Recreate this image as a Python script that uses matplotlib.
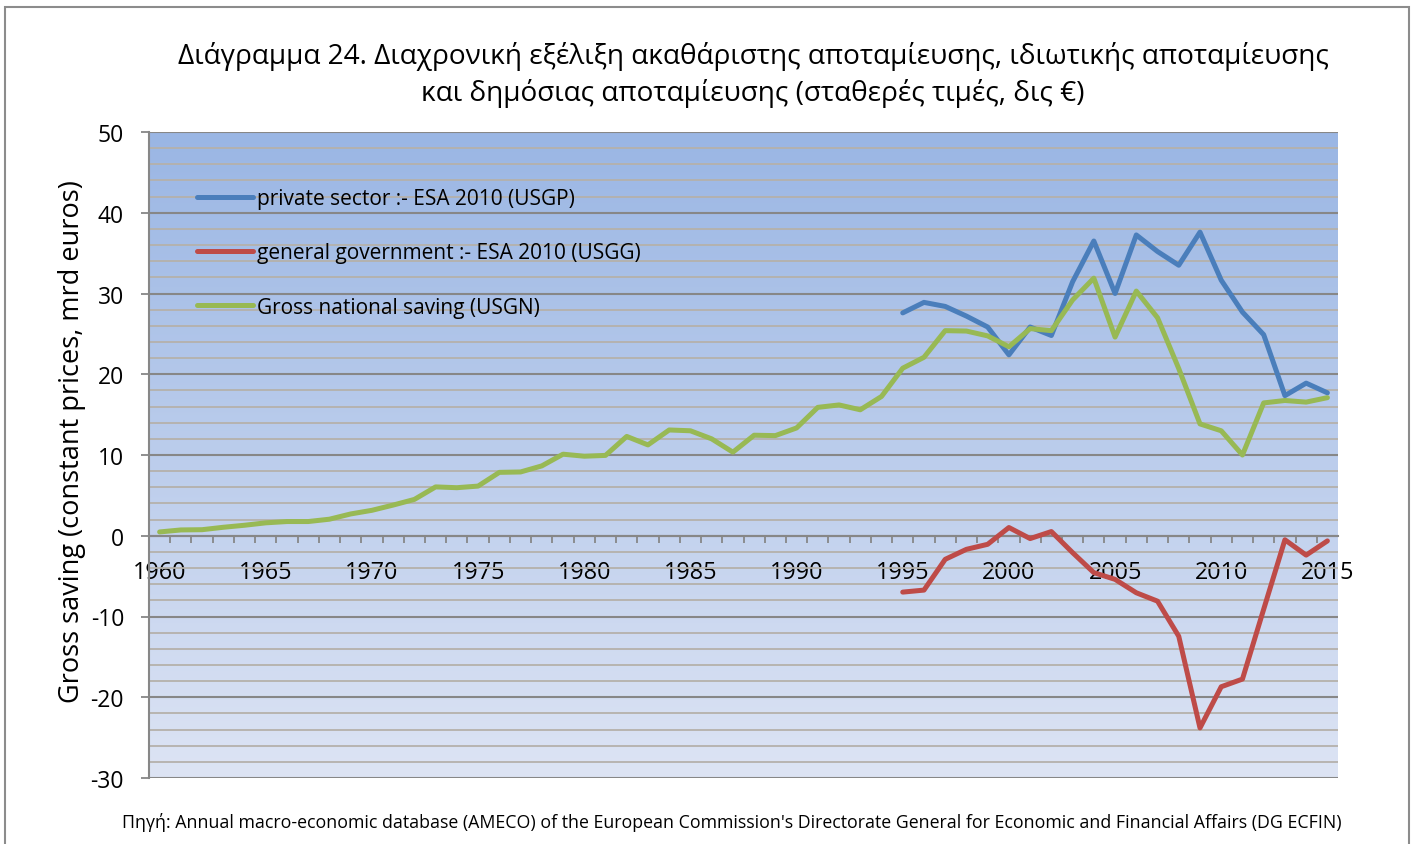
"""Gross, private and public saving over time (constant prices, bn EUR)."""

import matplotlib

matplotlib.use("Agg")

import matplotlib.pyplot as plt
import numpy as np
from matplotlib.patches import Rectangle

plt.rcParams["font.family"] = ["Open Sans", "DejaVu Sans"]
plt.rcParams["axes.unicode_minus"] = False

years = list(range(1960, 2016))

# private sector :- ESA 2010 (USGP), 1995-2015
private_years = list(range(1995, 2016))
private_sector = [
    27.6, 28.9, 28.4, 27.2, 25.85, 22.4, 25.85, 24.8, 31.45, 36.5, 30.0,
    37.25, 35.2, 33.5, 37.6, 31.65, 27.7, 24.9, 17.35, 18.9, 17.7,
]

# general government :- ESA 2010 (USGG), 1995-2015
government = [
    -6.98, -6.73, -2.92, -1.68, -1.06, 1.02, -0.35, 0.52, -2.09, -4.57, -5.4,
    -7.06, -8.1, -12.45, -23.8, -18.7, -17.75, -9.1, -0.5, -2.4, -0.64,
]

# Gross national saving (USGN), 1960-2015
national = [
    0.47, 0.72, 0.75, 1.05, 1.3, 1.6, 1.76, 1.76, 2.05, 2.7,
    3.15, 3.8, 4.5, 6.05, 5.95, 6.15, 7.85, 7.9, 8.65, 10.1,
    9.85, 9.95, 12.3, 11.25, 13.1, 13.0, 12.0, 10.35, 12.45, 12.4,
    13.35, 15.9, 16.2, 15.6, 17.25, 20.75, 22.1, 25.4, 25.35, 24.75,
    23.4, 25.65, 25.4, 29.2, 31.9, 24.6, 30.3, 27.0, 20.7, 13.85,
    13.0, 10.0, 16.45, 16.75, 16.55, 17.1,
]

labels = [
    "private sector :- ESA 2010 (USGP)",
    "general government :- ESA 2010 (USGG)",
    "Gross national saving (USGN)",
]
colors = ["#4A7EBB", "#BE4B48", "#98B954"]

title = ("Διάγραμμα 24. Διαχρονική εξέλιξη ακαθάριστης αποταμίευσης, ιδιωτικής αποταμίευσης\n"
         "και δημόσιας αποταμίευσης (σταθερές τιμές, δις €)")
source = ("Πηγή: Annual macro-economic database (AMECO) of the European Commission's "
          "Directorate General for Economic and Financial Affairs (DG ECFIN)")

W, H = 1411, 845
fig = plt.figure(figsize=(W / 100, H / 100), dpi=100)
ax = fig.add_axes([149 / W, 1 - 779 / H, (1338 - 149) / W, (779 - 133) / H])

# outer chart border
fig.patches.append(Rectangle((5 / W, -0.02), (1409 - 5) / W, 1.02 - 8 / H,
                             transform=fig.transFigure, fill=False,
                             edgecolor="#8C8C8C", linewidth=1.5))

# background gradient
grad = np.linspace(0, 1, 256).reshape(-1, 1)
top = np.array([0x9A, 0xB6, 0xE4]) / 255
bottom = np.array([0xDD, 0xE4, 0xF4]) / 255
img = top + (bottom - top) * grad[..., None]
ax.imshow(img, extent=[0, 1, 0, 1], transform=ax.transAxes, aspect="auto",
          zorder=0)

idx = {y: i for i, y in enumerate(years)}
px = [idx[y] for y in private_years]
line_kw = dict(lw=3.6, solid_capstyle="round", solid_joinstyle="round", zorder=3)
ax.plot(px, private_sector, color=colors[0], label=labels[0], **line_kw)
ax.plot(px, government, color=colors[1], label=labels[1], **line_kw)
ax.plot(range(len(years)), national, color=colors[2], label=labels[2], **line_kw)

ax.set_xlim(-0.5, len(years) - 0.5)
ax.set_ylim(-30, 50)

ax.set_yticks(range(-30, 51, 10))
ax.set_yticks(range(-30, 51, 2), minor=True)
ax.grid(axis="y", which="major", color="#878787", lw=1.5, zorder=1)
ax.grid(axis="y", which="minor", color="#B5B1AB", lw=1.3, zorder=1)
ax.tick_params(axis="y", which="major", length=6, width=1.3, color="#878787",
               labelsize=16.5, pad=12)
ax.tick_params(axis="y", which="minor", length=0)

ax.set_xticks(range(0, len(years), 5))
ax.set_xticklabels([str(years[i]) for i in range(0, len(years), 5)])
ax.set_xticks(np.arange(0.5, len(years) - 0.5, 1), minor=True)
ax.tick_params(axis="x", which="major", length=0, labelsize=16.8, pad=17.5)
ax.tick_params(axis="x", which="minor", length=5, width=1.3, color="#878787")

for side in ("top", "right"):
    ax.spines[side].set_visible(False)
ax.spines["left"].set_color("#878787")
ax.spines["left"].set_linewidth(1.5)
ax.spines["bottom"].set_position(("data", 0))
ax.spines["bottom"].set_color("#878787")
ax.spines["bottom"].set_linewidth(1.5)

ax.legend(loc="upper left", bbox_to_anchor=(197 / W, 1 - 189 / H),
          bbox_transform=fig.transFigure, frameon=False, fontsize=15,
          handlelength=2.7, handletextpad=0.2, labelspacing=1.6,
          borderpad=0, borderaxespad=0)

fig.text(753 / W, 1 - 75 / H, title, ha="center", va="center", fontsize=20.2,
         linespacing=1.32)
fig.text(72 / W, 1 - 442 / H, "Gross saving (constant prices, mrd euros)",
         rotation=90, ha="center", va="center", fontsize=19.5)
fig.text(732 / W, 1 - 823 / H, source, ha="center", va="center", fontsize=12.8)

fig.savefig("out.png", dpi=100)
plt.close(fig)
